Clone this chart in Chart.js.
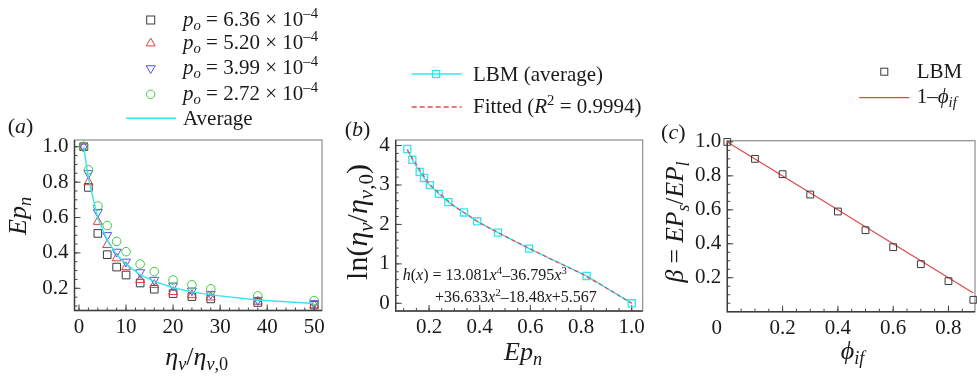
<!DOCTYPE html>
<html><head><meta charset="utf-8">
<script src="https://cdn.jsdelivr.net/npm/chart.js@4.4.1/dist/chart.umd.min.js"></script>
<style>
html,body{margin:0;padding:0;background:#fff;width:977px;height:376px;overflow:hidden;}
#wrap{position:relative;width:977px;height:376px;overflow:hidden;background:#fff;}
canvas{position:absolute;top:0;}
svg{position:absolute;left:0;top:0;}
.t{position:absolute;white-space:nowrap;font-family:'Liberation Serif','Times New Roman',serif;color:#1a1a1a;line-height:1;}
.t sub{font-size:70%;vertical-align:-0.3em;line-height:0;}
.t sup{font-size:70%;vertical-align:0.5em;line-height:0;}
.c{transform:translate(-50%,-50%);}
.l{transform:translate(0,-50%);}
.r{transform:translate(-50%,-50%) rotate(-90deg);}
</style></head>
<body><div id="wrap">
<canvas id="ca" width="330" height="376" style="left:0px"></canvas>
<canvas id="cb" width="320" height="376" style="left:330px"></canvas>
<canvas id="cc" width="327" height="376" style="left:650px"></canvas>
<svg width="977" height="376">
  <rect x="146.7" y="16" width="8" height="8" fill="none" stroke="#3a3a3a" stroke-width="1"/>
  <polygon points="150.7,38.1 146.2,45.9 155.2,45.9" fill="none" stroke="#e23b3b" stroke-width="1"/>
  <polygon points="150.7,73.5 146.2,65.7 155.2,65.7" fill="none" stroke="#5252ee" stroke-width="1"/>
  <circle cx="150.7" cy="94.3" r="4.2" fill="none" stroke="#3ccc3c" stroke-width="1"/>
  <line x1="126" y1="118.3" x2="176" y2="118.3" stroke="#33e6f0" stroke-width="1.4"/>
  <line x1="411.7" y1="74" x2="461.7" y2="74" stroke="#33e6f0" stroke-width="1.4"/>
  <rect x="432.5" y="70.5" width="7" height="7" fill="none" stroke="#33e6f0" stroke-width="1.3"/>
  <line x1="411.7" y1="107" x2="461.7" y2="107" stroke="#e84a4a" stroke-width="1.3" stroke-dasharray="5,3"/>
  <rect x="880.8" y="68.2" width="7" height="7" fill="none" stroke="#3a3a3a" stroke-width="1"/>
  <line x1="859.3" y1="97.7" x2="909.3" y2="97.7" stroke="#e04848" stroke-width="1.3"/>
</svg>
<div class="t l" style="left:183px;top:19px;font-size:21px"><i>p</i><sub><i>o</i></sub> = 6.36 × 10<sup>–4</sup></div>
<div class="t l" style="left:183px;top:42.3px;font-size:21px"><i>p</i><sub><i>o</i></sub> = 5.20 × 10<sup>–4</sup></div>
<div class="t l" style="left:183px;top:67.3px;font-size:21px"><i>p</i><sub><i>o</i></sub> = 3.99 × 10<sup>–4</sup></div>
<div class="t l" style="left:183px;top:93.3px;font-size:21px"><i>p</i><sub><i>o</i></sub> = 2.72 × 10<sup>–4</sup></div>
<div class="t l" style="left:183px;top:118px;font-size:21px">Average</div>
<div class="t l" style="left:473px;top:73.5px;font-size:21px">LBM (average)</div>
<div class="t l" style="left:473px;top:106px;font-size:21px">Fitted (<i>R</i><sup>2</sup> = 0.9994)</div>
<div class="t l" style="left:916.7px;top:71px;font-size:21px">LBM</div>
<div class="t l" style="left:916.7px;top:96px;font-size:21px">1–<i>ϕ</i><sub><i>if</i></sub></div>
<div class="t c" style="left:20.5px;top:126px;font-size:22px">(<i>a</i>)</div>
<div class="t c" style="left:357.5px;top:129px;font-size:22px">(<i>b</i>)</div>
<div class="t c" style="left:673.3px;top:132px;font-size:22px">(<i>c</i>)</div>
<div class="t r" style="left:18.3px;top:216px;font-size:26px"><i>Ep</i><sub><i>n</i></sub></div>
<div class="t c" style="left:196.7px;top:357px;font-size:26px"><i>η</i><sub><i>v</i></sub>/<i>η</i><sub><i>v</i>,0</sub></div>
<div class="t r" style="left:356.7px;top:222px;font-size:30px">ln(<i>η</i><sub><i>v</i></sub>/<i>η</i><sub><i>v</i>,0</sub>)</div>
<div class="t c" style="left:523px;top:352px;font-size:26px"><i>Ep</i><sub><i>n</i></sub></div>
<div class="t r" style="left:675px;top:222px;font-size:25.5px"><i>β</i> = <i>EP</i><sub><i>s</i></sub>/<i>EP</i><sub><i>l</i></sub></div>
<div class="t c" style="left:852.5px;top:351px;font-size:26px"><i>ϕ</i><sub><i>if</i></sub></div>
<div class="t l" style="left:402.7px;top:275px;font-size:16px"><i>h</i>(<i>x</i>) = 13.081<i>x</i><sup>4</sup>–36.795<i>x</i><sup>3</sup></div>
<div class="t l" style="left:435px;top:297px;font-size:16px">+36.633<i>x</i><sup>2</sup>–18.48<i>x</i>+5.567</div>
</div>
<script>
// ---- Panel (a): Ep_n vs eta_v/eta_v,0 ----
const etaRatio = [1, 2, 4, 6, 8, 10, 13, 16, 20, 24, 28, 38, 50];
const epP636 = [1.0, 0.77, 0.51, 0.39, 0.32, 0.275, 0.23, 0.195, 0.17, 0.153, 0.14, 0.12, 0.105];
const epP520 = [1.0, 0.80, 0.576, 0.445, 0.37, 0.32, 0.247, 0.22, 0.18, 0.162, 0.149, 0.125, 0.105];
const epP399 = [1.0, 0.85, 0.63, 0.50, 0.406, 0.35, 0.29, 0.247, 0.215, 0.187, 0.168, 0.134, 0.115];
const epP272 = [1.0, 0.87, 0.665, 0.555, 0.465, 0.407, 0.337, 0.294, 0.247, 0.22, 0.197, 0.157, 0.13];
const epAverage = [1.0, 0.822, 0.595, 0.472, 0.39, 0.338, 0.276, 0.239, 0.203, 0.18, 0.163, 0.134, 0.114];
const aXTicks = [0, 10, 20, 30, 40, 50];
const aYTicks = [0.2, 0.4, 0.6, 0.8, 1.0];

// ---- Panel (b): ln(eta_v/eta_v,0) vs Ep_n ----
const lnEtaRatio = [0, 0.693, 1.386, 1.792, 2.079, 2.303, 2.565, 2.773, 2.996, 3.178, 3.332, 3.638, 3.912];
const fitEp = [0.114, 0.2, 0.3, 0.4, 0.5, 0.6, 0.7, 0.8, 0.9, 1.0];
const fitLn = [3.88, 3.02, 2.46, 2.04, 1.70, 1.38, 1.06, 0.76, 0.39, 0.0];
const bXTicks = [0.2, 0.4, 0.6, 0.8, 1.0];
const bYTicks = [0, 1, 2, 3, 4];

// ---- Panel (c): beta vs phi_if ----
const phiIf = [0, 0.1, 0.2, 0.3, 0.4, 0.5, 0.6, 0.7, 0.8, 0.89];
const betaLBM = [1.0, 0.9, 0.81, 0.69, 0.59, 0.48, 0.38, 0.28, 0.18, 0.07];
const phiLine = [0, 0.89];
const betaLine = [1.0, 0.11];
const cXTicks = [0, 0.2, 0.4, 0.6, 0.8];
const cYTicks = [0.2, 0.4, 0.6, 0.8, 1.0];

const FONT = "'Liberation Serif','Times New Roman',serif";
const pts = (xs, ys) => xs.map((x, i) => ({x: x, y: ys[i]}));

function makeFrame(xTicks, yTicks, xMinor, yMinor) {
  return {
    id: 'frameTicks',
    beforeDatasetsDraw(chart) {
      const ctx = chart.ctx, a = chart.chartArea, xs = chart.scales.x, ys = chart.scales.y;
      ctx.save();
      ctx.strokeStyle = '#8c8c8c'; ctx.lineWidth = 1.2;
      ctx.strokeRect(a.left, a.top, a.right - a.left, a.bottom - a.top);
      ctx.strokeStyle = '#3c3c3c'; ctx.lineWidth = 1.4;
      ctx.beginPath(); ctx.moveTo(a.left, a.top); ctx.lineTo(a.left, a.bottom); ctx.lineTo(a.right, a.bottom); ctx.stroke();
      ctx.lineWidth = 1; ctx.strokeStyle = '#444';
      ctx.beginPath();
      const tx = (v, len) => { const p = xs.getPixelForValue(v); if (p < a.left + 0.5 || p > a.right - 0.5) return; ctx.moveTo(p, a.bottom); ctx.lineTo(p, a.bottom - len); };
      const ty = (v, len) => { const p = ys.getPixelForValue(v); if (p < a.top + 0.5 || p > a.bottom - 0.5) return; ctx.moveTo(a.left, p); ctx.lineTo(a.left + len, p); };
      for (let i = Math.ceil(xs.min / xMinor - 1e-9); i * xMinor <= xs.max + 1e-9; i++) tx(i * xMinor, 3);
      for (let i = Math.ceil(ys.min / yMinor - 1e-9); i * yMinor <= ys.max + 1e-9; i++) ty(i * yMinor, 3);
      xTicks.forEach(v => tx(v, 6)); yTicks.forEach(v => ty(v, 6));
      ctx.stroke();
      ctx.restore();
    }
  };
}

function makeChart(id, ox, cw, area, xc, yc, datasets, frame) {
  const YW = 50, XH = 40;
  const tickFont = {family: FONT, size: 21};
  return new Chart(document.getElementById(id), {
    type: 'scatter',
    data: {datasets: datasets},
    options: {
      responsive: false, animation: false, devicePixelRatio: 1, events: [],
      layout: {autoPadding: false, padding: {left: area.left - ox - YW, right: ox + cw - area.right, top: area.top, bottom: 376 - area.bottom - XH}},
      plugins: {legend: {display: false}, tooltip: {enabled: false}},
      scales: {
        x: {type: 'linear', position: 'bottom', min: xc.min, max: xc.max,
            grid: {display: false, drawTicks: false}, border: {display: false},
            afterBuildTicks: s => { s.ticks = xc.ticks.map(v => ({value: v})); },
            afterFit: s => { s.height = XH; },
            ticks: {font: tickFont, color: '#1a1a1a', padding: 4, maxRotation: 0, autoSkip: false, callback: xc.fmt}},
        y: {type: 'linear', position: 'left', min: yc.min, max: yc.max,
            grid: {display: false, drawTicks: false}, border: {display: false},
            afterBuildTicks: s => { s.ticks = yc.ticks.map(v => ({value: v})); },
            afterFit: s => { s.width = YW; },
            ticks: {font: tickFont, color: '#1a1a1a', padding: 6, autoSkip: false, callback: yc.fmt}}
      }
    },
    plugins: [frame]
  });
}

const mk = (xs, ys, style, r, color, extra) => Object.assign({
  data: pts(xs, ys), showLine: false, pointStyle: style, pointRadius: r,
  pointBorderColor: color, pointBackgroundColor: 'rgba(0,0,0,0)', pointBorderWidth: 1, clip: false
}, extra || {});

// Panel a
makeChart('ca', 0, 330, {left: 74.5, right: 322, top: 140, bottom: 310.5},
  {min: -0.956, max: 51.65, ticks: aXTicks, fmt: v => String(v)},
  {min: 0.0746, max: 1.038, ticks: aYTicks, fmt: v => v.toFixed(1)},
  [
    {data: pts(etaRatio, epAverage), showLine: true, borderColor: '#33e6f0', borderWidth: 1.4, pointRadius: 0, clip: false},
    mk(etaRatio, epP272, 'circle', 4.3, '#3ccc3c'),
    mk(etaRatio, epP399, 'triangle', 5.2, '#5252ee', {pointRotation: 180}),
    mk(etaRatio, epP520, 'triangle', 5.2, '#e23b3b'),
    mk(etaRatio, epP636, 'rect', 5.4, '#3a3a3a')
  ],
  makeFrame(aXTicks, aYTicks, 2, 0.05));

// Panel b
makeChart('cb', 330, 320, {left: 395.7, right: 642.7, top: 140, bottom: 311},
  {min: 0.0683, max: 1.0434, ticks: bXTicks, fmt: v => v.toFixed(1)},
  {min: -0.195, max: 4.14, ticks: bYTicks, fmt: v => String(v)},
  [
    {data: pts(fitEp, fitLn), showLine: true, borderColor: '#e84a4a', borderWidth: 1.2, borderDash: [4, 3], pointRadius: 0, clip: false},
    {data: pts(epAverage, lnEtaRatio), showLine: true, borderColor: '#33e6f0', borderWidth: 1.4,
     pointStyle: 'rect', pointRadius: 5, pointBorderColor: '#33e6f0', pointBackgroundColor: 'rgba(0,0,0,0)', pointBorderWidth: 1.3, clip: false}
  ],
  makeFrame(bXTicks, bYTicks, 0.05, 0.2));

// Panel c
makeChart('cc', 650, 327, {left: 727.3, right: 975, top: 140.7, bottom: 311.7},
  {min: 0, max: 0.896, ticks: cXTicks, fmt: v => (v === 0 ? '0\u00a0\u00a0\u00a0\u00a0' : v.toFixed(1))},
  {min: 0, max: 1.007, ticks: cYTicks, fmt: v => v.toFixed(1)},
  [
    mk(phiIf, betaLBM, 'rect', 4.8, '#3a3a3a'),
    {data: pts(phiLine, betaLine), showLine: true, borderColor: '#e04848', borderWidth: 1.2, pointRadius: 0, clip: false}
  ],
  makeFrame(cXTicks, cYTicks, 0.05, 0.05));
</script>
</body></html>
